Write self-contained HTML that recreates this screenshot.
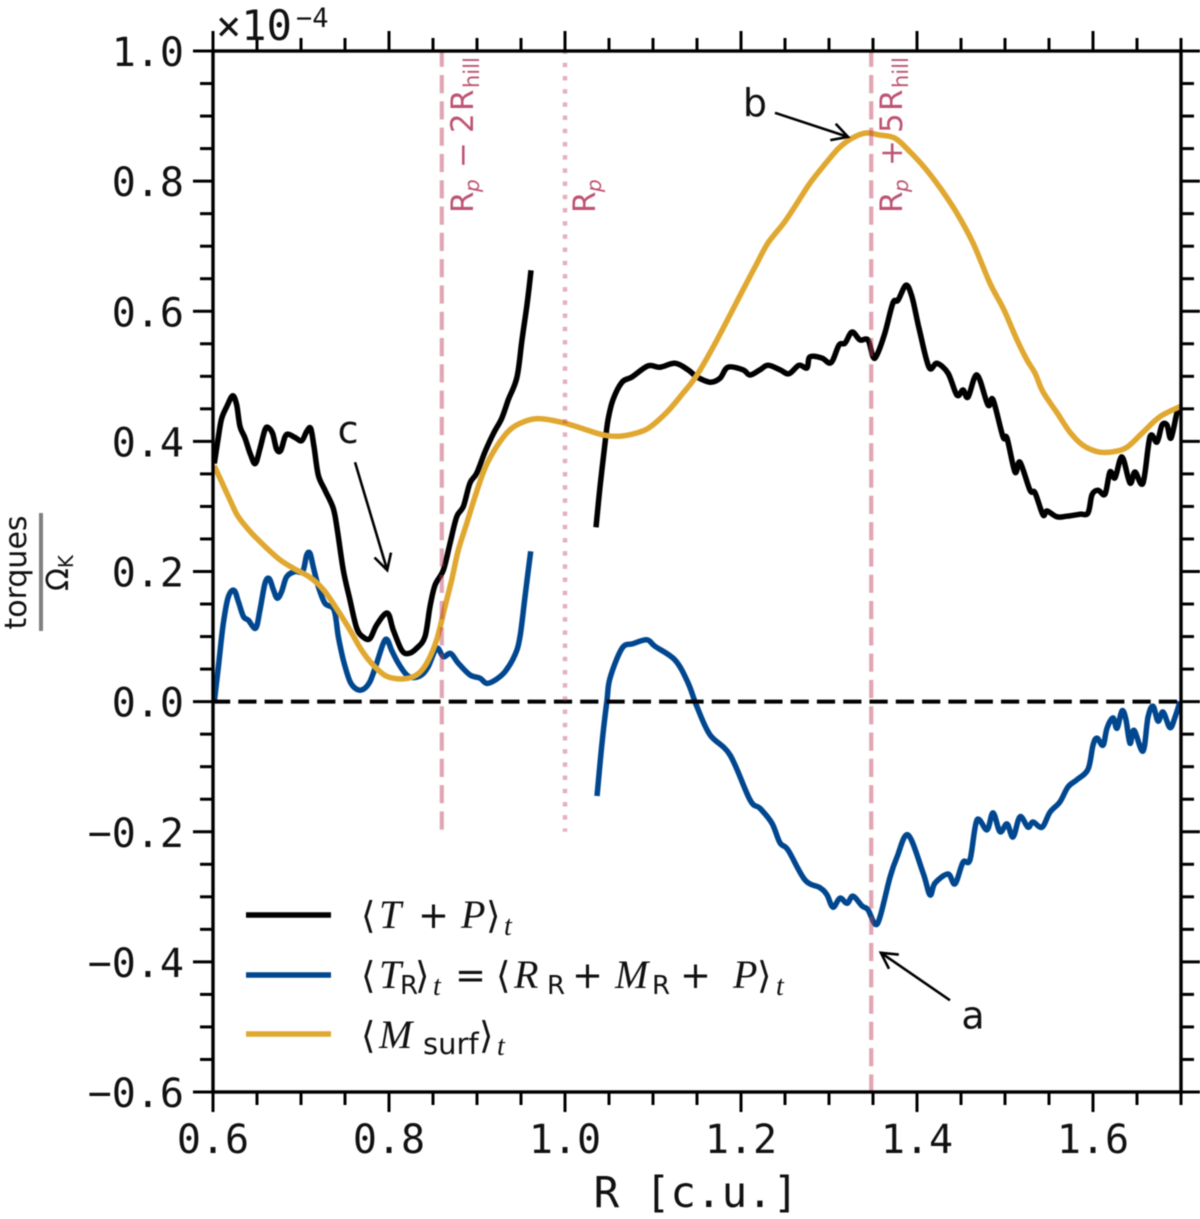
<!DOCTYPE html>
<html lang="en">
<head>
<meta charset="utf-8">
<title>Torques versus radius</title>
<style>
html,body{margin:0;padding:0;background:#fff;width:1200px;height:1219px;overflow:hidden}
#chart{position:absolute;left:0;top:0;filter:blur(0.6px)}
.mono{font-family:"DejaVu Sans Mono","Liberation Mono",monospace;fill:#111}
.sans{font-family:"DejaVu Sans","Liberation Sans",sans-serif}
.math{font-family:"Liberation Serif",serif;font-style:italic;fill:#111}
.up{font-family:"DejaVu Sans","Liberation Sans",sans-serif;font-style:normal;fill:#111}
.vl{font-family:"DejaVu Sans","Liberation Sans",sans-serif;fill:#bd5473}
</style>
</head>
<body>
<svg id="chart" xmlns="http://www.w3.org/2000/svg" width="1200" height="1219" viewBox="0 0 1200 1219">
  <rect width="1200" height="1219" fill="#fff"/>
  <g id="series" fill="none" stroke-linejoin="round" stroke-linecap="butt"></g>
  <g id="refs"></g>
  <g id="axes"></g>

  <g class="mono">
    <text x="216" y="40" font-size="42">×10</text>
    <text x="296" y="27" font-size="27">−4</text>
  </g>

  <text class="mono" x="696" y="1207" font-size="42.5" text-anchor="middle">R [c.u.]</text>

  <g>
    <text class="sans" fill="#111" transform="translate(26,572.5) rotate(-90)" font-size="30" text-anchor="middle">torques</text>
    <rect x="39" y="513" width="4" height="118" fill="#808080"/>
    <text class="sans" fill="#111" transform="translate(68,591) rotate(-90)" font-size="30">Ω<tspan font-size="20" dy="5">K</tspan></text>
  </g>

  <text class="vl" transform="translate(473,213) rotate(-90)" font-size="31"><tspan x="0" y="0">R</tspan><tspan font-size="20" font-style="italic" x="21" y="6">p</tspan><tspan x="45" y="0">−</tspan><tspan x="80" y="0">2</tspan><tspan x="102" y="0">R</tspan><tspan font-size="21" x="125" y="6">hill</tspan></text>
  <text class="vl" transform="translate(595,213) rotate(-90)" font-size="31"><tspan x="0" y="0">R</tspan><tspan font-size="20" font-style="italic" x="21" y="6">p</tspan></text>
  <text class="vl" transform="translate(902,213) rotate(-90)" font-size="31"><tspan x="0" y="0">R</tspan><tspan font-size="20" font-style="italic" x="21" y="6">p</tspan><tspan x="47" y="0">+</tspan><tspan x="80" y="0">5</tspan><tspan x="102" y="0">R</tspan><tspan font-size="21" x="125" y="6">hill</tspan></text>

  <g id="annotations"></g>

  <g id="legend">
    <g>
      <line x1="246" x2="331" y1="915" y2="915" stroke="#000" stroke-width="5.5"/>
      <text class="math" y="928" font-size="40"><tspan class="up" font-size="37" x="361">⟨</tspan><tspan x="379">T</tspan><tspan class="up" font-size="37" x="418">+</tspan><tspan x="461">P</tspan><tspan class="up" font-size="37" x="486">⟩</tspan><tspan x="504" font-size="28" dy="7">t</tspan></text>
    </g>
    <g>
      <line x1="246" x2="331" y1="975" y2="975" stroke="#00478f" stroke-width="5.5"/>
      <text class="math" y="988" font-size="40"><tspan class="up" font-size="37" x="361">⟨</tspan><tspan x="379">T</tspan><tspan class="up" x="400" font-size="26" y="994">R</tspan><tspan class="up" font-size="37" x="415" y="988">⟩</tspan><tspan x="433" font-size="28" y="995">t</tspan><tspan class="up" font-size="37" x="455" y="988">=</tspan><tspan class="up" font-size="37" x="496">⟨</tspan><tspan x="514">R</tspan><tspan class="up" x="547" font-size="26" y="994">R</tspan><tspan class="up" font-size="37" x="572" y="988">+</tspan><tspan x="615">M</tspan><tspan class="up" x="652" font-size="26" y="994">R</tspan><tspan class="up" font-size="37" x="680" y="988">+</tspan><tspan x="733">P</tspan><tspan class="up" font-size="37" x="757">⟩</tspan><tspan x="776" font-size="28" y="995">t</tspan></text>
    </g>
    <g>
      <line x1="246" x2="331" y1="1034" y2="1034" stroke="#e0a830" stroke-width="5.5"/>
      <text class="math" y="1048" font-size="40"><tspan class="up" font-size="37" x="361">⟨</tspan><tspan x="379">M</tspan><tspan class="up" x="423" font-size="29" y="1054">surf</tspan><tspan class="up" font-size="37" x="479" y="1048">⟩</tspan><tspan x="497" font-size="28" y="1055">t</tspan></text>
    </g>
  </g>
</svg>
<script>
// ---- data (torques in units of 1e-4, radius in code units) ----
const totalInnerR = [.6015,.6061,.6098,.6155,.6223,.6269,.6307,.6364,.6428,.6481,.6534,.6591,.6629,.6678,.6723,.6769,.6818,.6856,.6932,.7008,.7064,.7110,.7148,.7197,.7273,.7367,.7413,.7481,.7557,.7633,.7708,.7784,.7860,.7981,.8049,.8144,.8220,.8314,.8409,.8466,.8523,.8617,.8693,.8769,.8845,.8920,.8996,.9091,.9186,.9280,.9356,.9455,.9511,.9568,.9614];
const totalInnerV = [.366,.407,.435,.453,.470,.456,.423,.405,.379,.366,.389,.418,.421,.412,.388,.386,.407,.411,.406,.401,.415,.420,.392,.348,.325,.297,.264,.202,.156,.113,.099,.097,.118,.136,.110,.079,.074,.082,.100,.146,.179,.202,.243,.284,.300,.336,.351,.384,.412,.435,.464,.499,.556,.610,.663];
const totalOuterR = [1.0352,1.0398,1.0455,1.0489,1.0545,1.0648,1.0761,1.0943,1.1080,1.1250,1.1398,1.1500,1.1648,1.1761,1.1852,1.2023,1.2102,1.2216,1.2307,1.2443,1.2545,1.2659,1.2750,1.2784,1.2920,1.3023,1.3114,1.3182,1.3261,1.3352,1.3443,1.3500,1.3545,1.3636,1.3727,1.3784,1.3875,1.3943,1.4023,1.4136,1.4227,1.4352,1.4455,1.4523,1.4580,1.4682,1.4807,1.4864,1.4977,1.5023,1.5114,1.5170,1.5284,1.5341,1.5432,1.5477,1.5591,1.5705,1.5852,1.5943,1.5989,1.6057,1.6136,1.6193,1.6250,1.6330,1.6420,1.6477,1.6568,1.6648,1.6727,1.6784,1.6841,1.6886,1.6955,1.7000];
const totalOuterV = [.268,.330,.397,.433,.464,.491,.499,.516,.514,.520,.510,.499,.491,.497,.514,.510,.502,.510,.517,.510,.504,.517,.513,.530,.528,.521,.548,.551,.568,.556,.556,.530,.533,.567,.613,.617,.640,.622,.574,.514,.520,.505,.471,.479,.468,.502,.456,.464,.407,.405,.353,.368,.325,.321,.287,.293,.284,.285,.288,.290,.318,.325,.319,.353,.344,.376,.336,.353,.336,.407,.399,.425,.425,.405,.444,.453];

const reducedInnerR = [.6015,.6061,.6117,.6174,.6239,.6288,.6345,.6402,.6485,.6534,.6591,.6640,.6686,.6731,.6780,.6837,.6932,.7019,.7064,.7102,.7140,.7197,.7273,.7375,.7424,.7481,.7557,.7633,.7708,.7784,.7860,.7936,.7981,.8030,.8106,.8201,.8277,.8371,.8447,.8542,.8617,.8701,.8788,.8920,.9034,.9110,.9205,.9318,.9432,.9489,.9545,.9610];
const reducedInnerV = [0,.054,.120,.161,.171,.154,.131,.125,.113,.141,.182,.189,.172,.159,.169,.192,.200,.200,.225,.228,.207,.177,.151,.141,.100,.064,.031,.019,.019,.031,.059,.090,.095,.079,.059,.041,.037,.041,.054,.082,.069,.074,.059,.041,.036,.028,.033,.046,.072,.100,.161,.231];
const reducedOuterR = [1.0364,1.0420,1.0477,1.0511,1.0648,1.0773,1.0932,1.1023,1.1250,1.1398,1.1500,1.1648,1.1875,1.2102,1.2216,1.2352,1.2443,1.2534,1.2727,1.2898,1.2977,1.3045,1.3125,1.3205,1.3273,1.3375,1.3443,1.3523,1.3580,1.3693,1.3773,1.3898,1.4068,1.4148,1.4205,1.4352,1.4432,1.4523,1.4602,1.4682,1.4795,1.4864,1.4943,1.5023,1.5091,1.5170,1.5261,1.5318,1.5420,1.5511,1.5625,1.5716,1.5818,1.5943,1.6000,1.6045,1.6114,1.6159,1.6227,1.6273,1.6330,1.6375,1.6420,1.6466,1.6568,1.6625,1.6682,1.6739,1.6795,1.6875,1.6932,1.6989];
const reducedOuterV = [-.145,-.064,.002,.036,.082,.089,.095,.085,.064,.029,-.008,-.051,-.082,-.151,-.164,-.187,-.217,-.228,-.274,-.286,-.297,-.316,-.302,-.310,-.299,-.314,-.320,-.342,-.331,-.270,-.239,-.205,-.263,-.297,-.279,-.265,-.280,-.247,-.243,-.182,-.197,-.171,-.200,-.188,-.208,-.177,-.193,-.185,-.193,-.170,-.154,-.131,-.120,-.104,-.067,-.056,-.067,-.041,-.025,-.041,-.014,-.028,-.064,-.044,-.076,-.024,-.007,-.030,-.016,-.040,-.024,0];

const surfaceR = [.6015,.6098,.6193,.6288,.6439,.6610,.6761,.6913,.7102,.7254,.7405,.7557,.7689,.7822,.7973,.8163,.8314,.8428,.8542,.8636,.8712,.8788,.8883,.8977,.9091,.9223,.9375,.9527,.9695,.9943,1.0170,1.0432,1.0625,1.0818,1.0966,1.1159,1.1341,1.1500,1.1727,1.2023,1.2159,1.2307,1.2489,1.2636,1.2784,1.2966,1.3114,1.3261,1.3420,1.3568,1.3750,1.3920,1.4091,1.4261,1.4443,1.4636,1.4830,1.4989,1.5136,1.5250,1.5341,1.5432,1.5591,1.5739,1.5886,1.6057,1.6227,1.6386,1.6568,1.6761,1.7000];
const surfaceV = [.362,.338,.310,.284,.259,.236,.218,.205,.191,.172,.143,.110,.079,.056,.039,.035,.041,.059,.095,.146,.187,.233,.274,.315,.359,.392,.418,.430,.435,.430,.421,.410,.408,.413,.422,.445,.474,.502,.556,.633,.668,.705,.736,.766,.797,.828,.851,.866,.874,.871,.866,.845,.820,.790,.753,.705,.643,.602,.556,.525,.505,.476,.444,.414,.394,.384,.384,.391,.414,.438,.454];

const xMajorTicks = [0.6,0.8,1.0,1.2,1.4,1.6];
const xTickLabels = ['0.6','0.8','1.0','1.2','1.4','1.6'];
const yMajorTicks = [1.0,0.8,0.6,0.4,0.2,0.0,-0.2,-0.4,-0.6];
const yTickLabels = ['1.0','0.8','0.6','0.4','0.2','0.0','−0.2','−0.4','−0.6'];
const minorStepCount = 22;

const refRadii = [0.86, 1.0, 1.348];
const refLowerV = [-0.2, -0.2, -0.6];

const annotationLabels = ['a','b','c'];
const annotationTipR = [1.359,1.3216,0.798];
const annotationTipV = [-0.386,0.868,0.202];
const annotationTailR = [1.4375,1.2386,0.7614];
const annotationTailV = [-0.459,0.905,0.368];

// ---- axis functions ----
const xMin = 0.6, xMax = 1.7, yMin = -0.6, yMax = 1.0;
const plotLeft = 213, plotRight = 1181, plotTop = 51, plotBottom = 1092;
function xPx(r){ return plotLeft + (r - xMin) / (xMax - xMin) * (plotRight - plotLeft); }
function yPx(v){ return plotTop + (yMax - v) / (yMax - yMin) * (plotBottom - plotTop); }

const NS = 'http://www.w3.org/2000/svg';
function make(tag, parent, attrs){
  const el = document.createElementNS(NS, tag);
  for (const k in attrs) el.setAttribute(k, attrs[k]);
  parent.appendChild(el);
  return el;
}
// smooth curve through every data point (Catmull-Rom)
function pathFrom(rs, vs){
  const xs = rs.map(xPx), ys = vs.map(yPx), n = xs.length, k = 1/6;
  let d = 'M' + xs[0].toFixed(1) + ' ' + ys[0].toFixed(1);
  for (let i = 0; i < n-1; i++){
    const a = Math.max(i-1,0), b = Math.min(i+2,n-1);
    const c1x = xs[i] + (xs[i+1]-xs[a])*k, c1y = ys[i] + (ys[i+1]-ys[a])*k;
    const c2x = xs[i+1] - (xs[b]-xs[i])*k, c2y = ys[i+1] - (ys[b]-ys[i])*k;
    d += 'C' + c1x.toFixed(1) + ' ' + c1y.toFixed(1) + ' ' + c2x.toFixed(1) + ' ' + c2y.toFixed(1) + ' ' + xs[i+1].toFixed(1) + ' ' + ys[i+1].toFixed(1);
  }
  return d;
}

// ---- series ----
const seriesLayer = document.getElementById('series');
function drawSeries(name, rs, vs, color){
  const p = make('path', seriesLayer, {d:pathFrom(rs,vs), stroke:color, 'stroke-width':5.5});
  
  
}
drawSeries('total-torque-inner', totalInnerR, totalInnerV, '#000');
drawSeries('total-torque-outer', totalOuterR, totalOuterV, '#000');
drawSeries('reduced-torque-inner', reducedInnerR, reducedInnerV, '#00478f');
drawSeries('reduced-torque-outer', reducedOuterR, reducedOuterV, '#00478f');
drawSeries('surface-torque', surfaceR, surfaceV, '#e0a830');

// ---- reference lines ----
const refs = document.getElementById('refs');
const zero = make('line', refs, {x1:xPx(xMin), x2:xPx(xMax), y1:yPx(0), y2:yPx(0), stroke:'#000', 'stroke-width':4, 'stroke-dasharray':'18.2 8.1', 'stroke-dashoffset':1});


refRadii.forEach((r,i)=>{
  const dotted = i === 1;
  const l = make('line', refs, {x1:xPx(r), x2:xPx(r), y1:yPx(yMax), y2:yPx(refLowerV[i]),
    stroke: dotted ? 'rgba(190,60,90,.4)' : 'rgba(190,60,90,.46)', 'stroke-width': dotted ? 4.5 : 4.2,
    'stroke-dasharray': dotted ? '4.5 8.7' : '18.2 8.1', 'stroke-dashoffset': dotted ? 1.45 : 2.3});
  
  
});

// ---- axes ----
const axes = document.getElementById('axes');
const frame = make('rect', axes, {x:plotLeft, y:plotTop, width:plotRight-plotLeft, height:plotBottom-plotTop, fill:'none', stroke:'#000', 'stroke-width':3.4});



function tick(x1,y1,x2,y2){
  const t = make('line', axes, {x1,y1,x2,y2, stroke:'#000', 'stroke-width':3});
  
  
}
for (let i = 0; i <= minorStepCount; i++){
  const r = xMin + i * 0.05;
  const major = i % 4 === 0;
  const len = major ? 20 : 13;
  tick(xPx(r), plotBottom, xPx(r), plotBottom + len);
  tick(xPx(r), plotTop, xPx(r), plotTop - len);
}
for (let i = 0; i <= 32; i++){
  const v = yMin + i * 0.05;
  const major = i % 4 === 0;
  const len = major ? 20 : 13;
  tick(plotLeft, yPx(v), plotLeft - len, yPx(v));
  tick(plotRight, yPx(v), plotRight + len, yPx(v));
}
xMajorTicks.forEach((r,i)=>{
  const t = make('text', axes, {x:xPx(r), y:1153, 'text-anchor':'middle', 'font-size':40, class:'mono'});
  t.textContent = xTickLabels[i];
  
  
});
yMajorTicks.forEach((v,i)=>{
  const t = make('text', axes, {x:184, y:yPx(v)+15, 'text-anchor':'end', 'font-size':40, class:'mono'});
  t.textContent = yTickLabels[i];
  
  
});

// ---- annotations ----
const annLayer = document.getElementById('annotations');
const labelDx = [23, -20, -7];
const labelDy = [15, -10, -32];
annotationLabels.forEach((lab,i)=>{
  const tx = xPx(annotationTipR[i]), ty = yPx(annotationTipV[i]);
  const sx = xPx(annotationTailR[i]), sy = yPx(annotationTailV[i]);
  const shaft = make('line', annLayer, {x1:sx,y1:sy,x2:tx,y2:ty, stroke:'#000','stroke-width':2.6});
  
  
  const ang = Math.atan2(sy-ty, sx-tx), w = 0.5, hl = 18;
  const head = make('polyline', annLayer, {
    points:[tx+hl*Math.cos(ang+w),ty+hl*Math.sin(ang+w),tx,ty,tx+hl*Math.cos(ang-w),ty+hl*Math.sin(ang-w)].map(n=>n.toFixed(1)).join(' '),
    fill:'none', stroke:'#000','stroke-width':2.6});
  
  
  const t = make('text', annLayer, {x:sx+labelDx[i], y:sy+labelDy[i]+13, 'text-anchor':'middle','font-size':38, class:'sans', fill:'#111'});
  t.textContent = lab;
  
  
});
</script>
</body>
</html>
